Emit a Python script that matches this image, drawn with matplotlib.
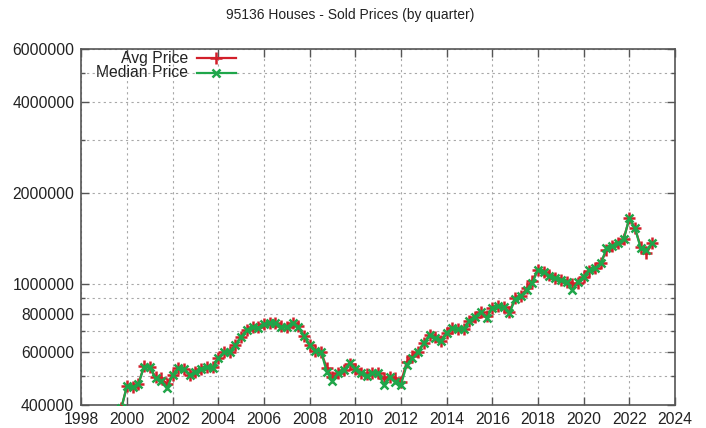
import numpy as np
import matplotlib
matplotlib.use("Agg")
import matplotlib.pyplot as plt
from matplotlib.ticker import FixedLocator, NullFormatter

plt.rcParams['font.family'] = ['Liberation Sans', 'DejaVu Sans']

TITLE = "95136 Houses - Sold Prices (by quarter)"

# quarters from Q4 1999 to Q1 2023
quarters = np.arange(1999.75, 2023.01, 0.25)

median_price = [
    390000, 462000, 458000, 469000, 535000, 533000, 490000, 481000, 454000,
    502000, 529000, 525000, 501000, 515000, 527000, 533000, 530000,
    570000, 597000, 600000, 630000, 672000, 707000, 725000, 720000,
    738000, 748000, 748000, 725000, 722000, 748000, 725000, 676000,
    631000, 605000, 600000, 515000, 480000, 509000, 522000, 549000,
    525000, 509000, 499000, 511000, 511000, 466000, 496000, 478000,
    466000, 542000, 570000, 600000, 639000, 681000, 664000, 652000,
    693000, 717000, 713000, 713000, 759000, 782000, 813000, 773000,
    838000, 849000, 844000, 803000, 894000, 916000, 958000, 1013000,
    1116000, 1101000, 1066000, 1048000, 1034000, 1021000, 958000, 1021000,
    1061000, 1116000, 1130000, 1174000, 1316000, 1339000, 1367000, 1409000,
    1653000, 1532000, 1316000, 1299000, 1367000,
]

avg_price = [
    390000, 462000, 460000, 469000, 540000, 533000, 495000, 490000, 470000,
    502000, 529000, 525000, 503000, 515000, 527000, 533000, 532000,
    570000, 597000, 600000, 632000, 672000, 707000, 725000, 722000,
    738000, 748000, 748000, 727000, 722000, 748000, 727000, 676000,
    631000, 605000, 600000, 530000, 495000, 509000, 522000, 545000,
    525000, 509000, 505000, 511000, 511000, 490000, 495000, 490000,
    475000, 555000, 580000, 600000, 639000, 681000, 670000, 652000,
    693000, 717000, 713000, 713000, 759000, 782000, 813000, 785000,
    838000, 849000, 844000, 810000, 905000, 916000, 970000, 1030000,
    1116000, 1101000, 1075000, 1048000, 1034000, 1021000, 1000000, 1010000,
    1061000, 1110000, 1130000, 1174000, 1300000, 1339000, 1367000, 1409000,
    1653000, 1532000, 1330000, 1266000, 1367000,
]

y_major = [400000, 600000, 800000, 1000000, 2000000, 4000000, 6000000]
y_minor = [500000, 700000, 900000, 3000000, 5000000]
x_ticks = list(range(1998, 2025, 2))

RED = '#d21f2a'
GREEN = '#1fa64a'
FRAME = '#555555'

fig = plt.figure(figsize=(7.06, 4.28), dpi=100)
ax = fig.add_axes([81.3 / 706, 1 - 405 / 428, (675 - 81.3) / 706, (405 - 48.7) / 428])

ax.plot(quarters, avg_price, color=RED, lw=1.6, marker='+', ms=8, mew=1.8, zorder=3)
ax.plot(quarters, median_price, color=GREEN, lw=1.6, marker='x', ms=6, mew=1.8, zorder=4)

ax.set_yscale('log')
ax.set_ylim(400000, 6000000)
ax.set_xlim(1998, 2024)

ax.yaxis.set_major_locator(FixedLocator(y_major))
ax.yaxis.set_minor_locator(FixedLocator(y_minor))
ax.yaxis.set_minor_formatter(NullFormatter())
ax.set_yticklabels([str(v) for v in y_major])
ax.set_xticks(x_ticks)
ax.set_xticklabels([str(v) for v in x_ticks])

ax.tick_params(axis='both', which='major', direction='in', length=6, width=1,
               color=FRAME, labelsize=11.3, labelcolor='#222222',
               top=True, right=True)
ax.tick_params(axis='y', which='major', pad=5)
ax.tick_params(axis='x', which='major', pad=5)
ax.tick_params(axis='y', which='minor', direction='in', length=3, width=1,
               color=FRAME, right=True)
ax.tick_params(axis='x', which='minor', bottom=False, top=False)

ax.grid(True, which='both', axis='y', color='#a8a8a8', lw=0.8, ls=(0, (2, 3)))
ax.grid(True, which='major', axis='x', color='#a8a8a8', lw=0.8, ls=(0, (2, 3)))
for s in ax.spines.values():
    s.set_color(FRAME)
    s.set_linewidth(1.2)

# gnuplot-style key: right-aligned text, then sample line
rows = [("Avg Price", RED, '+', 8), ("Median Price", GREEN, 'x', 6)]
for i, (label, col, mk, ms) in enumerate(rows):
    yy = 0.973 - i * 0.04
    ax.text(0.180, yy, label, transform=ax.transAxes, ha='right', va='center',
            fontsize=11.3, color='#222222')
    ax.plot([0.195, 0.260], [yy, yy], transform=ax.transAxes, color=col, lw=1.6,
            clip_on=False, zorder=5)
    ax.plot([0.2275], [yy], transform=ax.transAxes, color=col, marker=mk, ms=ms,
            mew=1.8, clip_on=False, zorder=5)

fig.text(0.496, 1 - 15 / 428, TITLE, ha='center', va='center', fontsize=10, color='#222222')

fig.savefig('out.png', dpi=100)
